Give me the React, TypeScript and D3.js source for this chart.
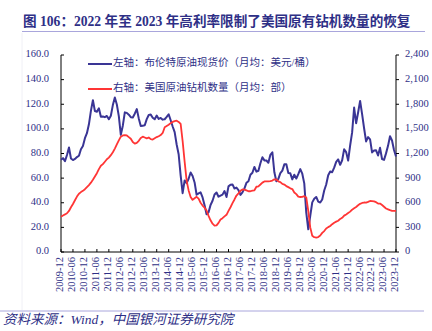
import React from "react";
import * as d3 from "d3";

// Monthly data, 2009-12 .. 2023-12
const brentPrice: number[] = [
  74.9,
  76.2, 73.8, 78.8, 84.9, 75.9, 74.7, 75.6, 77.1, 78.2, 83.5, 86.1, 92.4,
  96.5, 103.7, 114.6, 123.3, 114.5, 113.9, 116.7, 109.8, 110.1, 109.5, 110.5, 107.9,
  110.7, 119.3, 125.5, 119.8, 110.3, 95.2, 102.6, 113.4, 113.0, 111.5, 109.5, 109.2,
  112.3, 116.1, 108.5, 102.3, 102.6, 102.9, 107.9, 111.3, 111.6, 109.1, 107.8, 110.8,
  108.1, 108.9, 107.5, 107.8, 109.7, 111.9, 107.0, 101.9, 97.3, 87.3, 79.4, 62.3,
  47.8, 58.1, 55.9, 59.5, 64.6, 61.7, 56.5, 46.5, 47.6, 48.4, 44.3, 38.0,
  30.7, 32.2, 38.2, 41.6, 46.7, 48.3, 44.9, 45.8, 46.6, 49.5, 44.7, 53.3,
  54.6, 54.9, 51.6, 52.3, 50.3, 46.4, 48.5, 51.7, 56.2, 57.5, 62.7, 64.4,
  69.1, 65.3, 66.0, 72.1, 77.0, 74.4, 74.3, 72.5, 78.9, 81.0, 64.7, 57.4,
  59.4, 64.0, 66.1, 71.2, 71.3, 64.2, 63.9, 59.0, 62.8, 59.7, 63.2, 67.3,
  63.6, 55.7, 32.0, 18.4, 29.4, 40.3, 43.2, 44.7, 40.9, 40.2, 42.7, 49.9,
  54.8, 62.3, 65.4, 64.8, 68.5, 73.2, 75.2, 70.8, 74.5, 83.5, 81.1, 74.2,
  86.5, 97.1, 117.3, 104.6, 113.3, 122.7, 111.9, 100.5, 89.8, 93.3, 91.4, 80.9,
  82.5, 82.6, 78.4, 84.6, 75.5, 74.8, 80.1, 86.2, 94.0, 90.6, 82.9, 77.6,
];

const oilRigs: number[] = [
  430,
  445, 458, 472, 500, 545, 585, 630, 675, 710, 730, 745, 765,
  790, 815, 845, 880, 920, 960, 1010, 1050, 1070, 1100, 1130, 1150,
  1180, 1215, 1260, 1310, 1360, 1405, 1420, 1425, 1420, 1400, 1380, 1340,
  1320, 1330, 1355, 1390, 1405, 1395, 1385, 1395, 1375, 1370, 1385, 1400,
  1410, 1425, 1450, 1520, 1535, 1550, 1570, 1585, 1595, 1600, 1585, 1560,
  1350, 1100, 870, 750, 670, 635, 655, 672, 650, 600, 566, 540,
  505, 440, 386, 345, 322, 325, 355, 395, 412, 434, 453, 500,
  545, 595, 640, 688, 715, 745, 762, 760, 750, 740, 740, 748,
  752, 795, 800, 822, 845, 860, 860, 861, 864, 870, 885, 883,
  860, 852, 830, 822, 802, 790, 776, 767, 725, 705, 675, 670,
  671, 680, 665, 500, 300, 198, 180, 176, 182, 200, 233, 255,
  286, 303, 317, 339, 357, 370, 381, 403, 417, 443, 458, 475,
  492, 516, 533, 549, 569, 587, 597, 603, 601, 610, 622, 621,
  617, 607, 591, 590, 572, 551, 530, 520, 510, 501, 501, 501,
];

const xTickLabels: string[] = [
  "2009-12", "2010-06", "2010-12", "2011-06", "2011-12", "2012-06", "2012-12",
  "2013-06", "2013-12", "2014-06", "2014-12", "2015-06", "2015-12", "2016-06",
  "2016-12", "2017-06", "2017-12", "2018-06", "2018-12", "2019-06", "2019-12",
  "2020-06", "2020-12", "2021-06", "2021-12", "2022-06", "2022-12", "2023-06",
  "2023-12",
];

const leftTicks: number[] = [0, 20, 40, 60, 80, 100, 120, 140, 160];
const rightTicks: number[] = [0, 300, 600, 900, 1200, 1500, 1800, 2100, 2400];

const titleText = "图 106：2022 年至 2023 年高利率限制了美国原有钻机数量的恢复";
const legendBrent = "左轴：布伦特原油现货价（月均：美元/桶）";
const legendRigs = "右轴：美国原油钻机数量（月均：部）";
const sourceText = "资料来源：Wind，中国银河证券研究院";

const NAVY = "#2e2f86";
const BLUE_LINE = "#3a3595";
const RED_LINE = "#ff3535";
const RULE = "#a9a6dc";
const SERIF = "'Liberation Serif', 'Noto Sans CJK SC', serif";
const CJK = "'Liberation Serif', 'Noto Sans CJK SC', sans-serif";

export default function App() {
  const W = 432;
  const H = 331;
  const left = 61;
  const right = 396;
  const top = 55;
  const bottom = 252;

  const x = d3.scaleLinear().domain([0, brentPrice.length - 1]).range([left, right]);
  const yL = d3.scaleLinear().domain([0, 160]).range([bottom, top]);
  const yR = d3.scaleLinear().domain([0, 2400]).range([bottom, top]);

  const brentLine = d3
    .line<number>()
    .x((_, i) => x(i))
    .y((d) => yL(d));
  const rigLine = d3
    .line<number>()
    .x((_, i) => x(i))
    .y((d) => yR(d));

  const fmtL = d3.format(".1f");
  const fmtR = d3.format(",");

  return (
    <svg
      width={W}
      height={H}
      viewBox={`0 0 ${W} ${H}`}
      style={{ position: "absolute", left: 0, top: 0, background: "#fff" }}
    >
      {/* title */}
      <text
        x={23}
        y={23}
        fontFamily={CJK}
        fontWeight="bold"
        fontSize={13.6}
        fill={NAVY}
        dominantBaseline="middle"
      >
        {titleText}
      </text>
      <line x1={22} x2={425} y1={31.5} y2={31.5} stroke={RULE} strokeWidth={1} />
      <line x1={22} x2={22} y1={33} y2={310} stroke="#f0f0f6" strokeWidth={1} />

      {/* left axis */}
      <line x1={left} x2={left} y1={top} y2={bottom} stroke="#000" strokeWidth={1} />
      {leftTicks.map((t) => (
        <g key={"l" + t}>
          <line x1={left} x2={left + 3} y1={yL(t)} y2={yL(t)} stroke="#000" />
          <text
            x={49}
            y={yL(t)}
            textAnchor="end"
            dominantBaseline="middle"
            fontFamily={SERIF}
            fontSize={10.5}
            fill={NAVY}
          >
            {fmtL(t)}
          </text>
        </g>
      ))}

      {/* right axis */}
      <line x1={right} x2={right} y1={top} y2={bottom} stroke="#000" strokeWidth={1} />
      {rightTicks.map((t) => (
        <g key={"r" + t}>
          <line x1={right} x2={right + 3} y1={yR(t)} y2={yR(t)} stroke="#000" />
          <text
            x={405}
            y={yR(t)}
            textAnchor="start"
            dominantBaseline="middle"
            fontFamily={SERIF}
            fontSize={10.5}
            fill={NAVY}
          >
            {fmtR(t)}
          </text>
        </g>
      ))}

      {/* bottom axis */}
      <line x1={left} x2={right} y1={bottom} y2={bottom} stroke="#000" strokeWidth={1} />
      {xTickLabels.map((lab, i) => {
        const xx = x(i * 6);
        return (
          <g key={lab}>
            <line x1={xx} x2={xx} y1={bottom} y2={bottom - 3} stroke="#000" />
            <text
              transform={`translate(${xx},${bottom + 5}) rotate(-90)`}
              textAnchor="end"
              dominantBaseline="middle"
              fontFamily={SERIF}
              fontSize={10.5}
              fill={NAVY}
            >
              {lab}
            </text>
          </g>
        );
      })}

      {/* series */}
      <path d={brentLine(brentPrice) || ""} fill="none" stroke={BLUE_LINE} strokeWidth={2} strokeLinejoin="round" />
      <path d={rigLine(oilRigs) || ""} fill="none" stroke={RED_LINE} strokeWidth={1.8} strokeLinejoin="round" />

      {/* legend */}
      <line x1={88} x2={112} y1={64} y2={64} stroke={BLUE_LINE} strokeWidth={2} />
      <text x={113} y={64} dominantBaseline="middle" fontFamily={CJK} fontSize={10.5} fill={NAVY}>
        {legendBrent}
      </text>
      <line x1={88} x2={112} y1={89} y2={89} stroke={RED_LINE} strokeWidth={2} />
      <text x={113} y={89} dominantBaseline="middle" fontFamily={CJK} fontSize={10.5} fill={NAVY}>
        {legendRigs}
      </text>

      {/* footer */}
      <line x1={0} x2={424} y1={311} y2={311} stroke={RULE} strokeWidth={1} />
      <text
        x={3}
        y={321}
        dominantBaseline="middle"
        fontFamily={CJK}
        fontStyle="italic"
        fontSize={13.5}
        fill={NAVY}
      >
        {sourceText}
      </text>
    </svg>
  );
}
